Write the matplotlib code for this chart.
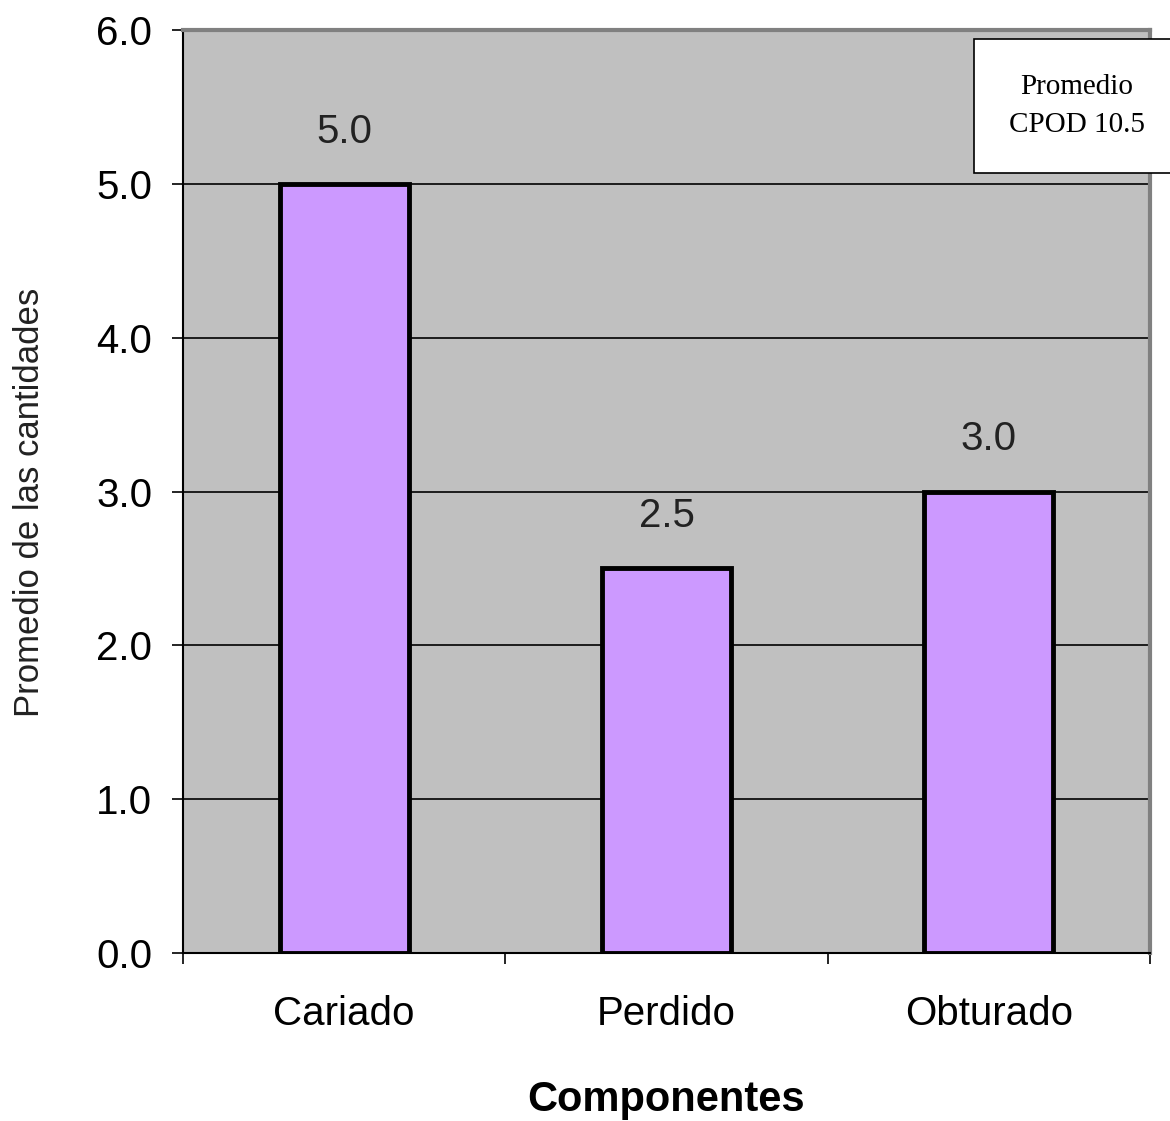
import numpy as np
import matplotlib.pyplot as plt

categories = ['Cariado', 'Perdido', 'Obturado']
values = [5.0, 2.5, 3.0]
yticks = [0.0, 1.0, 2.0, 3.0, 4.0, 5.0, 6.0]

plt.rcParams['font.family'] = ['Liberation Sans', 'DejaVu Sans']

fig = plt.figure(figsize=(11.7, 11.21), dpi=100)
ax = fig.add_axes([0.1564, 0.1499, 0.8265, 0.8233])
ax.set_facecolor('#C0C0C0')

x = np.arange(len(categories))
ax.bar(x, values, width=0.4, color='#CC99FF', edgecolor='black', linewidth=3.5, zorder=3)
for xi, v in zip(x, values):
    ax.annotate(f'{v:.1f}', (xi, v), xytext=(0, 24), textcoords='offset points',
                ha='center', va='bottom', fontsize=29, color='#222222')

ax.set_xlim(-0.5, 2.5)
ax.set_ylim(0, 6)
ax.set_yticks(yticks)
ax.set_yticklabels([f'{t:.1f}' for t in yticks], fontsize=29)
ax.yaxis.grid(True, color='black', linewidth=1.2, zorder=1)
ax.set_axisbelow(True)

ax.set_xticks([-0.5, 0.5, 1.5, 2.5])
ax.set_xticklabels([])
ax.set_xticks(x, minor=True)
ax.set_xticklabels(categories, minor=True, fontsize=29)
ax.tick_params(axis='x', which='minor', length=0, pad=30)
ax.tick_params(axis='x', which='major', length=8, width=1.2, direction='out')
ax.tick_params(axis='y', length=8, width=1.2, direction='out', pad=14)

for s in ['left', 'bottom']:
    ax.spines[s].set_linewidth(1.5)
for s in ['top', 'right']:
    ax.spines[s].set_color('#808080')
    ax.spines[s].set_linewidth(3)

ax.set_xlabel('Componentes', fontsize=30, fontweight='bold', labelpad=34)
fig.text(0.025, 0.552, 'Promedio de las cantidades', fontsize=25, color='#222222',
         rotation=90, ha='center', va='center')

fig.text(0.9205, 0.905, 'Promedio\nCPOD 10.5', family='Liberation Serif', fontsize=21,
         ha='center', va='center', linespacing=1.6,
         bbox=dict(boxstyle='square,pad=1.2', facecolor='white', edgecolor='black', linewidth=1.2))

fig.savefig('out.png', dpi=100)
